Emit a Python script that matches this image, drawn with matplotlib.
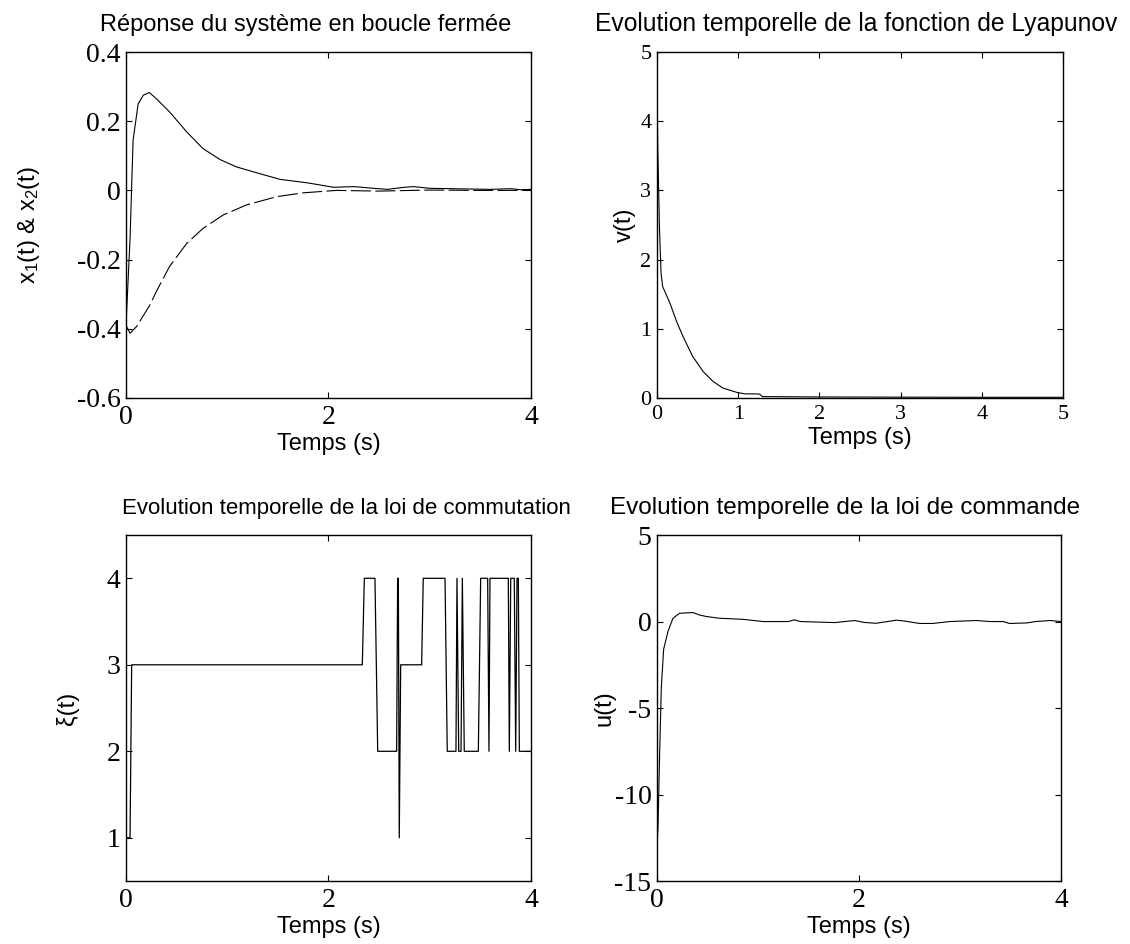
import numpy as np
import matplotlib
matplotlib.use('Agg')
import matplotlib.pyplot as plt

plt.rcParams['font.family'] = ['Liberation Sans', 'DejaVu Sans']
plt.rcParams['mathtext.fontset'] = 'custom'
plt.rcParams['mathtext.rm'] = 'Liberation Sans'
plt.rcParams['mathtext.it'] = 'Liberation Sans'
plt.rcParams['axes.unicode_minus'] = False

# --- x1(t) (solid) and x2(t) (dashed), closed loop response
t_x1 = [0, 0.04, 0.07, 0.12, 0.17, 0.23, 0.30, 0.43, 0.60, 0.76, 0.93, 1.09, 1.29,
        1.52, 1.79, 2.05, 2.25, 2.45, 2.58, 2.75, 2.84, 3.0, 3.2, 3.4, 3.6, 3.8, 3.9, 4.0]
x1 = [-0.39, -0.14, 0.145, 0.25, 0.275, 0.283, 0.265, 0.227, 0.169, 0.121, 0.089, 0.068, 0.051,
      0.032, 0.022, 0.009, 0.011, 0.006, 0.003, 0.009, 0.011, 0.006, 0.005, 0.004, 0.003, 0.005, 0.002, 0.003]
t_x2 = [0, 0.04, 0.105, 0.237, 0.30, 0.43, 0.60, 0.76, 0.96, 1.19, 1.49, 1.75, 2.08, 2.5, 3.0, 3.5, 4.0]
x2 = [-0.39, -0.413, -0.393, -0.331, -0.292, -0.22, -0.153, -0.11, -0.071, -0.042, -0.018, -0.007,
      0.0, -0.002, 0.001, 0.0, 0.0]

# --- Lyapunov function v(t)
t_v = [0, 0.01, 0.03, 0.05, 0.07, 0.16, 0.24, 0.32, 0.44, 0.57, 0.69, 0.81, 0.98, 1.08, 1.26,
       1.30, 2.0, 3.0, 4.0, 5.0]
v = [4.5, 3.6, 2.48, 1.80, 1.61, 1.37, 1.11, 0.89, 0.60, 0.38, 0.24, 0.144, 0.082, 0.06, 0.058,
     0.02, 0.015, 0.012, 0.01, 0.01]

# --- switching law xi(t)
t_xi = [0, 0.04, 0.056, 2.334, 2.354, 2.459, 2.486, 2.673, 2.683, 2.690, 2.699, 2.713, 2.920, 2.936,
        3.151, 3.173, 3.259, 3.269, 3.286, 3.309, 3.322, 3.341, 3.480, 3.503, 3.572, 3.585, 3.595,
        3.776, 3.786, 3.800, 3.835, 3.849, 3.862, 3.875, 3.885, 4.0]
xi = [1, 1, 3, 3, 4, 4, 2, 2, 4, 4, 1, 3, 3, 4,
      4, 2, 2, 4, 2, 2, 4, 2, 2, 4, 4, 2, 4,
      4, 2, 4, 4, 2, 4, 4, 2, 2]

# --- control law u(t)
t_u = [0, 0.01, 0.026, 0.043, 0.066, 0.109, 0.158, 0.224, 0.356, 0.42, 0.49, 0.62, 0.85, 1.05,
       1.30, 1.36, 1.42, 1.76, 1.96, 2.05, 2.17, 2.37, 2.45, 2.6, 2.73, 2.9, 3.16, 3.3, 3.43, 3.49,
       3.66, 3.75, 3.89, 4.0]
u = [-13.0, -11.9, -7.7, -3.8, -1.6, -0.57, 0.19, 0.48, 0.52, 0.38, 0.29, 0.19, 0.13, 0.0,
     0.0, 0.1, 0.0, -0.06, 0.06, -0.05, -0.1, 0.08, 0.03, -0.11, -0.11, 0.0, 0.06, 0.0, 0.0, -0.11,
     -0.08, 0.0, 0.06, 0.0]

serif = ['Liberation Serif', 'DejaVu Serif']


def style(ax, size):
    ax.tick_params(direction='in', top=True, right=True, length=4, width=0.8)
    ax.tick_params(axis='x', pad=5)
    ax.tick_params(axis='y', pad=4)
    for lab in ax.get_xticklabels() + ax.get_yticklabels():
        lab.set_fontfamily(serif)
        lab.set_fontsize(size)
    for s in ax.spines.values():
        s.set_linewidth(1.0)


fig = plt.figure(figsize=(11.3, 9.44), dpi=100)
tsz = 17
big = 20

ax1 = fig.add_axes([0.1115, 0.5784, 0.3584, 0.3665])
ax1.plot(t_x1, x1, color='black', lw=0.8)
ax1.plot(t_x2, x2, color='black', lw=0.8, dashes=(18, 4))
ax1.set_xlim(0, 4)
ax1.set_ylim(-0.6, 0.4)
ax1.set_xticks([0, 2, 4])
ax1.set_yticks([-0.6, -0.4, -0.2, 0, 0.2, 0.4])
ax1.set_yticklabels(['-0.6', '-0.4', '-0.2', '0', '0.2', '0.4'])
style(ax1, big)
ax1.set_title('Réponse du système en boucle fermée', fontsize=tsz, x=0.444, pad=15)
ax1.set_xlabel('Temps (s)', fontsize=tsz, labelpad=2)
ax1.set_ylabel(r'x$_\mathregular{1}$(t) & x$_\mathregular{2}$(t)', fontsize=tsz)
ax1.yaxis.set_label_coords(-0.207, 0.5)

ax2 = fig.add_axes([0.5814, 0.5784, 0.3593, 0.3665])
ax2.plot(t_v, v, color='black', lw=0.8)
ax2.set_xlim(0, 5)
ax2.set_ylim(0, 5)
ax2.set_xticks([0, 1, 2, 3, 4, 5])
ax2.set_yticks([0, 1, 2, 3, 4, 5])
style(ax2, 16)
ax2.set_title('Evolution temporelle de la fonction de Lyapunov', fontsize=17.7, x=0.49, pad=15)
ax2.set_xlabel('Temps (s)', fontsize=tsz, labelpad=2)
ax2.set_ylabel('v(t)', fontsize=tsz)
ax2.yaxis.set_label_coords(-0.052, 0.5)

ax3 = fig.add_axes([0.1115, 0.0667, 0.3584, 0.3665])
ax3.plot(t_xi, xi, color='black', lw=0.9)
ax3.set_xlim(0, 4)
ax3.set_ylim(0.5, 4.5)
ax3.set_xticks([0, 2, 4])
ax3.set_yticks([1, 2, 3, 4])
style(ax3, big)
ax3.set_title('Evolution temporelle de la loi de commutation', fontsize=16, x=0.545, pad=15)
ax3.set_xlabel('Temps (s)', fontsize=tsz, labelpad=2)
ax3.set_ylabel('ξ(t)', fontsize=tsz)
ax3.yaxis.set_label_coords(-0.115, 0.5)

ax4 = fig.add_axes([0.5814, 0.0667, 0.3575, 0.3665])
ax4.plot(t_u, u, color='black', lw=0.8)
ax4.set_xlim(0, 4)
ax4.set_ylim(-15, 5)
ax4.set_xticks([0, 2, 4])
ax4.set_yticks([-15, -10, -5, 0, 5])
style(ax4, big)
ax4.set_title('Evolution temporelle de la loi de commande', fontsize=17.5, x=0.465, pad=15)
ax4.set_xlabel('Temps (s)', fontsize=tsz, labelpad=2)
ax4.set_ylabel('u(t)', fontsize=tsz)
ax4.yaxis.set_label_coords(-0.103, 0.5)

fig.savefig('out.png', dpi=100)
